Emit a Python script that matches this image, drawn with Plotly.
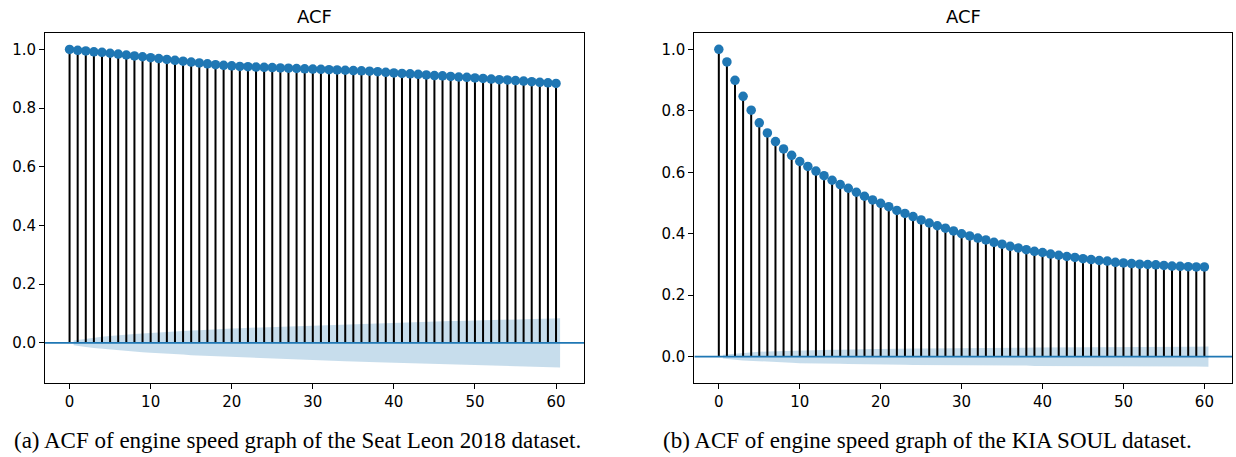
import plotly.graph_objects as go

W, H = 1236, 457

lags = list(range(61))

acf_seat = [1.000, 0.997, 0.995, 0.992, 0.990, 0.987, 0.984, 0.981, 0.978, 0.975,
            0.972, 0.969, 0.966, 0.963, 0.960, 0.957, 0.954, 0.951, 0.948, 0.946,
            0.944, 0.942, 0.941, 0.940, 0.939, 0.938, 0.937, 0.936, 0.935, 0.934,
            0.933, 0.932, 0.931, 0.930, 0.929, 0.928, 0.927, 0.926, 0.924, 0.922,
            0.920, 0.918, 0.917, 0.915, 0.913, 0.911, 0.910, 0.908, 0.906, 0.905,
            0.903, 0.901, 0.899, 0.897, 0.896, 0.894, 0.892, 0.890, 0.888, 0.886,
            0.884]

acf_kia = [1.000, 0.959, 0.899, 0.847, 0.802, 0.761, 0.728, 0.700, 0.676, 0.655,
           0.635, 0.619, 0.604, 0.589, 0.574, 0.560, 0.548, 0.535, 0.522, 0.510,
           0.499, 0.488, 0.476, 0.466, 0.456, 0.445, 0.435, 0.426, 0.418, 0.409,
           0.400, 0.393, 0.386, 0.380, 0.372, 0.366, 0.359, 0.354, 0.348, 0.343,
           0.339, 0.334, 0.330, 0.326, 0.323, 0.319, 0.316, 0.313, 0.311, 0.307,
           0.305, 0.303, 0.301, 0.300, 0.299, 0.297, 0.295, 0.294, 0.293, 0.292,
           0.292]

# confidence band half-widths for lags 1..60
band_seat = [0.008, 0.014, 0.018, 0.021, 0.023, 0.026, 0.028, 0.030, 0.032, 0.034,
             0.035, 0.037, 0.039, 0.040, 0.042, 0.043, 0.045, 0.046, 0.047, 0.049,
             0.050, 0.051, 0.052, 0.053, 0.054, 0.055, 0.056, 0.057, 0.058, 0.059,
             0.060, 0.061, 0.062, 0.063, 0.064, 0.065, 0.066, 0.066, 0.067, 0.068,
             0.069, 0.070, 0.071, 0.071, 0.072, 0.073, 0.074, 0.074, 0.075, 0.076,
             0.077, 0.077, 0.078, 0.079, 0.080, 0.080, 0.081, 0.082, 0.083, 0.084]

band_kia = [0.006, 0.010, 0.012, 0.014, 0.016, 0.017, 0.018, 0.019, 0.020, 0.021,
            0.021, 0.022, 0.022, 0.023, 0.023, 0.024, 0.024, 0.025, 0.025, 0.025,
            0.026, 0.026, 0.026, 0.027, 0.027, 0.027, 0.027, 0.028, 0.028, 0.028,
            0.028, 0.028, 0.029, 0.029, 0.029, 0.029, 0.029, 0.029, 0.030, 0.030,
            0.030, 0.030, 0.030, 0.030, 0.031, 0.031, 0.031, 0.031, 0.031, 0.031,
            0.031, 0.031, 0.032, 0.032, 0.032, 0.032, 0.032, 0.032, 0.032, 0.033]

titles = ["ACF", "ACF"]
captions = ["(a) ACF of engine speed graph of the Seat Leon 2018 dataset.",
            "(b) ACF of engine speed graph of the KIA SOUL dataset."]
x_ticks = [0, 10, 20, 30, 40, 50, 60]
y_ticks = [0.0, 0.2, 0.4, 0.6, 0.8, 1.0]

BLUE = "#1f77b4"

# axes geometry in pixels
ax_px = [(45, 584), (694.3, 1232.3)]
top_px, bot_px = 32.7, 383.3
y_ranges = [[-0.138, 1.057], [-0.0865, 1.054]]
x_range = [-3.03, 63.45]
caption_cx = [297, 927]

fig = go.Figure()

series = [(acf_seat, band_seat), (acf_kia, band_kia)]
for i, (acf, band) in enumerate(series):
    xa = "x" if i == 0 else "x2"
    ya = "y" if i == 0 else "y2"
    bx = [float(v) for v in lags[1:]]
    bx[0] -= 0.5
    bx[-1] += 0.5
    upper = list(band)
    lower = [-v for v in band]
    fig.add_trace(go.Scatter(x=bx + bx[::-1], y=upper + lower[::-1], fill="toself",
                             fillcolor="rgba(31,119,180,0.25)", line=dict(width=0),
                             mode="lines", hoverinfo="skip", xaxis=xa, yaxis=ya,
                             showlegend=False))
    sx, sy = [], []
    for k, v in zip(lags, acf):
        sx += [k, k, None]
        sy += [0, v, None]
    fig.add_trace(go.Scatter(x=sx, y=sy, mode="lines", line=dict(color="black", width=2),
                             xaxis=xa, yaxis=ya, showlegend=False, hoverinfo="skip"))
    fig.add_trace(go.Scatter(x=[x_range[0], x_range[1]], y=[0, 0], mode="lines",
                             line=dict(color=BLUE, width=1.8), xaxis=xa, yaxis=ya,
                             showlegend=False, hoverinfo="skip"))
    fig.add_trace(go.Scatter(x=lags, y=acf, mode="markers",
                             marker=dict(color=BLUE, size=9.5, line=dict(width=0)),
                             xaxis=xa, yaxis=ya, showlegend=False))

ydom = [1 - bot_px / H, 1 - top_px / H]
axis_common = dict(showgrid=False, zeroline=False, showline=True, linecolor="black",
                   linewidth=1, mirror=True, ticks="outside", ticklen=5, tickwidth=1,
                   tickcolor="black",
                   tickfont=dict(family="DejaVu Sans", size=15, color="black"))

layout = dict(width=W, height=H, margin=dict(l=0, r=0, t=0, b=0),
              paper_bgcolor="white", plot_bgcolor="white", showlegend=False)
for i in range(2):
    sfx = "" if i == 0 else "2"
    l, r = ax_px[i]
    layout["xaxis" + sfx] = dict(domain=[l / W, r / W], range=x_range, tickvals=x_ticks,
                                 anchor="y" + sfx, **axis_common)
    layout["yaxis" + sfx] = dict(domain=ydom, range=y_ranges[i], tickvals=y_ticks,
                                 tickformat=".1f", anchor="x" + sfx, **axis_common)
fig.update_layout(**layout)

for i in range(2):
    l, r = ax_px[i]
    fig.add_annotation(text=titles[i], x=(l + r) / 2 / W, y=1 - 16 / H, xref="paper",
                       yref="paper", showarrow=False, xanchor="center", yanchor="middle",
                       font=dict(family="DejaVu Sans", size=18, color="black"))
    fig.add_annotation(text=captions[i], x=caption_cx[i] / W, y=1 - 440 / H, xref="paper",
                       yref="paper", showarrow=False, xanchor="center", yanchor="middle",
                       font=dict(family="Liberation Serif", size=23, color="black"))

fig.write_html("out.html", config={"displayModeBar": False},
               post_script="document.body.style.margin='0';")
